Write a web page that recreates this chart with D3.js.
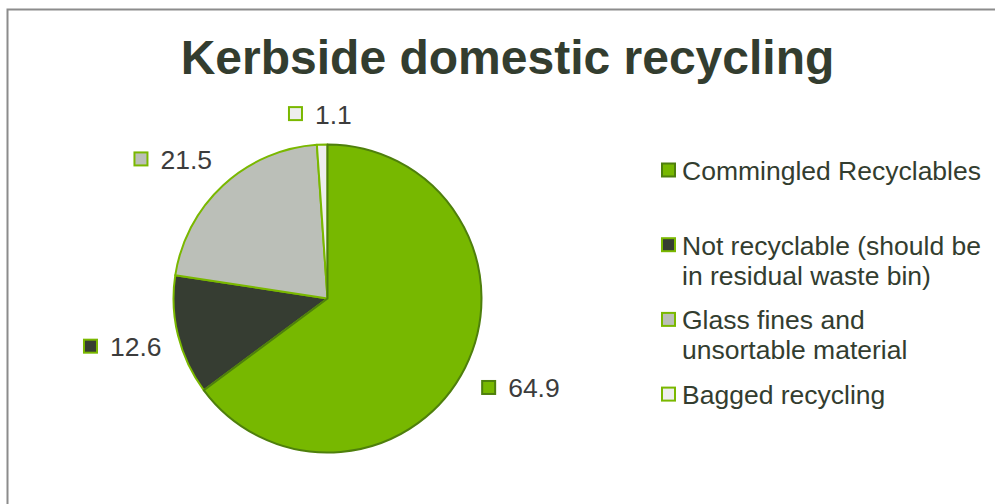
<!DOCTYPE html>
<html><head><meta charset="utf-8">
<script src="https://cdn.jsdelivr.net/npm/d3@7"></script>
<style>html,body{margin:0;padding:0;background:#fff;}svg{display:block;}</style>
</head><body>
<script>
const title = "Kerbside domestic recycling";
const categories = ["Commingled Recyclables", "Not recyclable (should be in residual waste bin)", "Glass fines and unsortable material", "Bagged recycling"];
const legendLines = [["Commingled Recyclables"], ["Not recyclable (should be", "in residual waste bin)"], ["Glass fines and", "unsortable material"], ["Bagged recycling"]];
const values = [64.9, 12.6, 21.5, 1.1];
const valueLabels = ["64.9", "12.6", "21.5", "1.1"];

const fills = ["#77b800", "#363d32", "#bbbfb8", "#eeeeee"];
const strokes = ["#4e7f0c", "#7ab800", "#7ab800", "#7ab800"];

const W = 995, H = 504;
const svg = d3.select("body").append("svg").attr("width", W).attr("height", H);

// frame (cropped at right/bottom)
svg.append("rect").attr("x", 7.5).attr("y", 9.5).attr("width", 1100).attr("height", 700)
  .attr("fill", "#fff").attr("stroke", "#8c8c8c").attr("stroke-width", 2);

svg.append("text").attr("x", 507.5).attr("y", 74).attr("text-anchor", "middle")
  .attr("font-family", "Liberation Sans, Arial, sans-serif").attr("font-weight", "bold")
  .attr("font-size", 48).attr("fill", "#333d2f").text(title);

const cx = 327.5, cy = 298.5, r = 154;
const pie = d3.pie().sort(null).value(d => d)(values);
const arc = d3.arc().innerRadius(0).outerRadius(r);
const g = svg.append("g").attr("transform", `translate(${cx},${cy})`);
// draw non-first slices first so the big slice's dark outline sits on top
const order = [1, 2, 3, 0];
order.forEach(i => {
  g.append("path").attr("d", arc(pie[i])).attr("fill", fills[i])
    .attr("stroke", strokes[i]).attr("stroke-width", 2).attr("stroke-linejoin", "round");
});

// data labels (outside end)
const fontLab = 26.5;
const measure = svg.append("text").attr("font-family", "Liberation Sans, Arial, sans-serif").attr("font-size", fontLab);
pie.forEach((p, i) => {
  const a = (p.startAngle + p.endAngle) / 2;
  const dx = Math.sin(a), dy = -Math.cos(a);
  measure.text(valueLabels[i]);
  const tw = measure.node().getComputedTextLength();
  const w = 26 + tw, h = 26;
  const gap = 18;
  const px = cx + dx * (r + gap), py = cy + dy * (r + gap);
  const f = v => Math.max(-1, Math.min(1, v * 2));
  const bx = px + f(dx) * w / 2, by = py + f(dy) * h / 2;
  const left = bx - w / 2;
  const baseline = by + 10;
  svg.append("rect").attr("x", left + 1).attr("y", baseline - 16.5).attr("width", 13).attr("height", 13)
    .attr("fill", fills[i]).attr("stroke", strokes[i]).attr("stroke-width", 2);
  svg.append("text").attr("x", left + 27).attr("y", baseline)
    .attr("font-family", "Liberation Sans, Arial, sans-serif").attr("font-size", fontLab)
    .attr("fill", "#3c3c3c").text(valueLabels[i]);
});
measure.remove();

// legend
const lgX = 662, lgTop = 180, lgStep = 74.7, lineH = 30;
legendLines.forEach((lines, i) => {
  const base = lgTop + i * lgStep;
  svg.append("rect").attr("x", lgX).attr("y", base - 16.5).attr("width", 13).attr("height", 13)
    .attr("fill", fills[i]).attr("stroke", strokes[i]).attr("stroke-width", 2);
  const t = svg.append("text").attr("x", lgX + 20).attr("y", base)
    .attr("font-family", "Liberation Sans, Arial, sans-serif").attr("font-size", 26.5).attr("fill", "#333d2f");
  lines.forEach((ln, j) => t.append("tspan").attr("x", lgX + 20).attr("y", base + j * lineH).text(ln));
});
</script>
</body></html>
